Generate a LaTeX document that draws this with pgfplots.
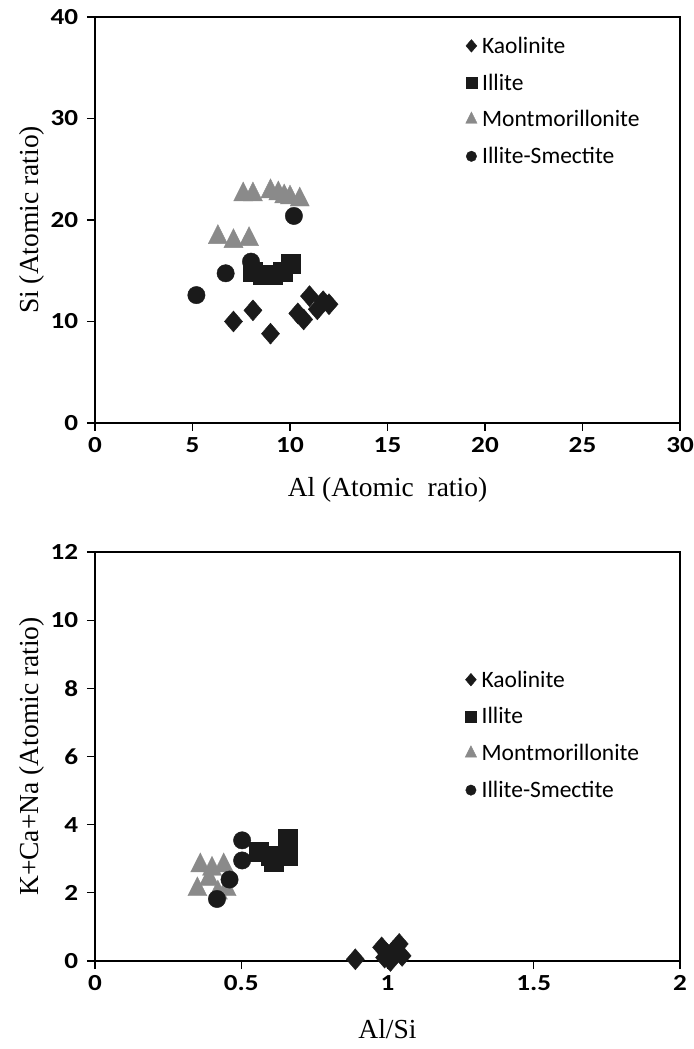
\documentclass[border=0pt]{standalone}
\usepackage{pgfplots}
\pgfplotsset{compat=1.18}
\usepackage{fontspec}
\setmainfont{Liberation Serif}
\newfontfamily\calibri{Carlito}

\definecolor{markdark}{HTML}{1A1A1A}
\definecolor{markgray}{HTML}{8A8A8A}

% Data for the Al vs Si plot
\pgfplotstableread{
x y
7.1 10.0
8.1 11.1
9.0 8.8
10.4 10.8
10.7 10.2
11.0 12.5
11.4 11.2
11.7 12.0
12.0 11.7
}\kaoA
\pgfplotstableread{
x y
8.1 14.9
8.6 14.6
9.1 14.6
9.6 14.9
10.05 15.7
}\illA
\pgfplotstableread{
x y
6.3 18.3
7.1 17.9
7.9 18.1
7.6 22.5
8.1 22.5
9.0 22.8
9.4 22.6
9.7 22.3
10.0 22.2
10.5 22.0
}\monA
\pgfplotstableread{
x y
5.2 12.6
6.7 14.75
8.0 15.9
10.2 20.4
}\ismA

% Data for the Al/Si vs K+Ca+Na plot
\pgfplotstableread{
x y
0.89 0.05
0.98 0.40
1.04 0.50
1.00 0.20
1.05 0.15
1.01 0.00
0.99 0.10
1.02 0.30
}\kaoB
\pgfplotstableread{
x y
0.56 3.2
0.61 2.9
0.66 3.1
0.66 3.6
0.60 3.1
}\illB
\pgfplotstableread{
x y
0.36 2.8
0.40 2.7
0.44 2.8
0.35 2.1
0.39 2.4
0.42 2.0
0.45 2.1
}\monB
\pgfplotstableread{
x y
0.503 3.54
0.503 2.95
0.46 2.39
0.417 1.82
}\ismB

\newcommand\labelfont{\fontsize{27.5bp}{31bp}\selectfont}

\pgfplotsset{
  clayaxis/.style={
    scale only axis,
    width=585bp,
    axis line style={line width=1.1bp, black},
    tick align=outside,
    xtick pos=bottom, ytick pos=left,
    major tick length=8bp,
    every tick/.style={black, line width=1.1bp},
    /pgf/number format/assume math mode=true,
    ticklabel style={font=\calibri\bfseries\fontsize{23bp}{26bp}\selectfont, xscale=1.18},
    yticklabel style={xshift=-4bp},
    xticklabel style={yshift=-3bp},
    every axis y label/.style={at={(axis description cs:-0.108,0.5)}, rotate=90, anchor=center, font=\labelfont},
    legend cell align=left,
    legend style={draw=none, fill=none, inner sep=0pt,
      font=\calibri\fontsize{23.5bp}{27bp}\selectfont,
      row sep=17bp,
      nodes={inner sep=1bp}},
    legend image code/.code={%
      \path (0bp,0bp) (14.5bp,0bp);
      \draw[#1,/tikz/every mark/.append style={scale=0.6}] plot coordinates {(5bp,0bp)};},
    kao/.style={only marks, mark=diamond*, mark size=10.5bp, color=markdark, mark options={xscale=1.15}},
    ill/.style={only marks, mark=square*, mark size=9.5bp, color=markdark},
    mon/.style={only marks, mark=triangle*, mark size=11bp, color=markgray, mark options={yscale=1.15}},
    ism/.style={only marks, mark=*, mark size=8.7bp, color=markdark},
  }
}

\begin{document}
\begin{tikzpicture}
\path[use as bounding box] (0bp,0bp) rectangle (694bp,1049bp);

\begin{axis}[clayaxis,
  at={(95bp,626bp)}, anchor=south west,
  height=406bp,
  xmin=0, xmax=30, ymin=0, ymax=40,
  xtick={0,5,...,30}, ytick={0,10,...,40},
  xlabel={Al (Atomic\ \ ratio)},
  ylabel={Si (Atomic ratio)},
  every axis x label/.style={at={(axis description cs:0.5,-0.165)}, anchor=center, font=\labelfont},
  legend style={at={(axis cs:19.0,38.15)}, anchor=north west},
]
\addplot[kao] table {\kaoA};
\addlegendentry{Kaolinite}
\addplot[ill] table {\illA};
\addlegendentry{Illite}
\addplot[mon] table {\monA};
\addlegendentry{Montmorillonite}
\addplot[ism] table {\ismA};
\addlegendentry{Illite-Smectite}
\end{axis}

\begin{axis}[clayaxis,
  at={(95bp,88bp)}, anchor=south west,
  height=409bp,
  xmin=0, xmax=2, ymin=0, ymax=12,
  xtick={0,0.5,...,2}, ytick={0,2,...,12},
  xlabel={Al/Si},
  ylabel={K+Ca+Na (Atomic ratio)},
  every axis x label/.style={at={(axis description cs:0.5,-0.166)}, anchor=center, font=\labelfont},
  legend style={at={(axis cs:1.265,8.55)}, anchor=north west},
]
\addplot[kao] table {\kaoB};
\addlegendentry{Kaolinite}
\addplot[ill] table {\illB};
\addlegendentry{Illite}
\addplot[mon] table {\monB};
\addlegendentry{Montmorillonite}
\addplot[ism] table {\ismB};
\addlegendentry{Illite-Smectite}
\end{axis}
\end{tikzpicture}
\end{document}
